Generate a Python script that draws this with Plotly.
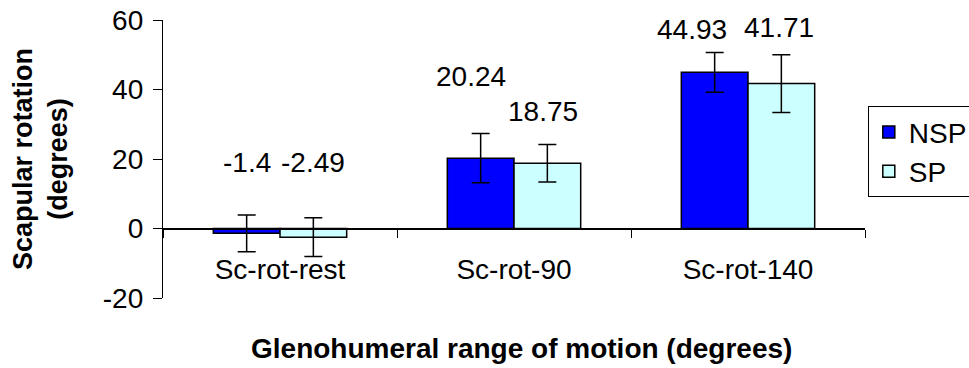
import plotly.graph_objects as go

categories = ["Sc-rot-rest", "Sc-rot-90", "Sc-rot-140"]
nsp_values = [-1.4, 20.24, 44.93]
sp_values = [-2.49, 18.75, 41.71]
nsp_err = [5.3, 7.1, 5.7]
sp_err = [5.6, 5.4, 8.3]
nsp_labels = ["-1.4", "20.24", "44.93"]
sp_labels = ["-2.49", "18.75", "41.71"]
y_ticks = [-20, 0, 20, 40, 60]
y_tick_text = ["-20", "0", "20", "40", "60"]

# label placement (data-y of label centres, extra pixel shifts)
nsp_label_y = [19, 43.7, 57.4]
sp_label_y = [19, 33.7, 57.8]
nsp_label_dx = [-33, -43, -56]
sp_label_dx = [33, 29, 31]

FONT = "Liberation Sans, Arial, sans-serif"

fig = go.Figure()
fig.add_trace(go.Bar(
    name="NSP", x=categories, y=nsp_values,
    marker=dict(color="#0000FF", line=dict(color="black", width=1.5)),
    error_y=dict(type="data", array=nsp_err, color="black", thickness=1.5, width=9),
))
fig.add_trace(go.Bar(
    name="SP", x=categories, y=sp_values,
    marker=dict(color="#CCFFFF", line=dict(color="black", width=1.5)),
    error_y=dict(type="data", array=sp_err, color="black", thickness=1.5, width=9),
))

annotations = []
for c, t, y, dx in zip(categories, nsp_labels, nsp_label_y, nsp_label_dx):
    annotations.append(dict(x=c, y=y, xref="x", yref="y", text=t, showarrow=False,
                            xshift=dx, font=dict(size=28, color="black", family=FONT)))
for c, t, y, dx in zip(categories, sp_labels, sp_label_y, sp_label_dx):
    annotations.append(dict(x=c, y=y, xref="x", yref="y", text=t, showarrow=False,
                            xshift=dx, font=dict(size=28, color="black", family=FONT)))
# x-axis title (placed below the category labels, as in the original)
annotations.append(dict(x=0.5, y=-0.18, xref="paper", yref="paper",
                        text="<b>Glenohumeral range of motion (degrees)</b>",
                        showarrow=False, xanchor="center", yanchor="middle",
                        xshift=7, font=dict(size=28, color="black", family=FONT)))

fig.update_layout(
    width=969, height=368,
    margin=dict(l=163, r=104, t=20, b=70, autoexpand=False),
    paper_bgcolor="white", plot_bgcolor="white",
    barmode="group", bargap=0.43, bargroupgap=0,
    font=dict(family=FONT, size=27, color="black"),
    showlegend=True,
    legend=dict(x=1.004, y=0.69, xanchor="left", yanchor="top",
                bordercolor="black", borderwidth=1, bgcolor="white",
                font=dict(size=28, family=FONT), tracegroupgap=20),
    annotations=annotations,
    xaxis=dict(
        anchor="free", position=0.25, automargin=False,
        showline=True, linecolor="black", linewidth=1.3,
        ticks="outside", ticklen=8, tickcolor="black", tickwidth=1.3,
        tickson="boundaries", showgrid=False, zeroline=False,
        ticklabelstandoff=16,
        tickfont=dict(size=28, family=FONT),
    ),
    yaxis=dict(
        range=[-20, 60], tickvals=y_ticks, ticktext=y_tick_text, automargin=False,
        showline=True, linecolor="black", linewidth=1.3,
        ticks="outside", ticklen=9, tickcolor="black", tickwidth=1.3,
        showgrid=False, zeroline=True, zerolinecolor="black", zerolinewidth=1.3,
        ticklabelstandoff=4,
        tickfont=dict(size=28, family=FONT),
        title=dict(text="<b>Scapular rotation<br>(degrees)</b>",
                   font=dict(size=27, family=FONT), standoff=27),
    ),
)

fig.write_html("out.html")
